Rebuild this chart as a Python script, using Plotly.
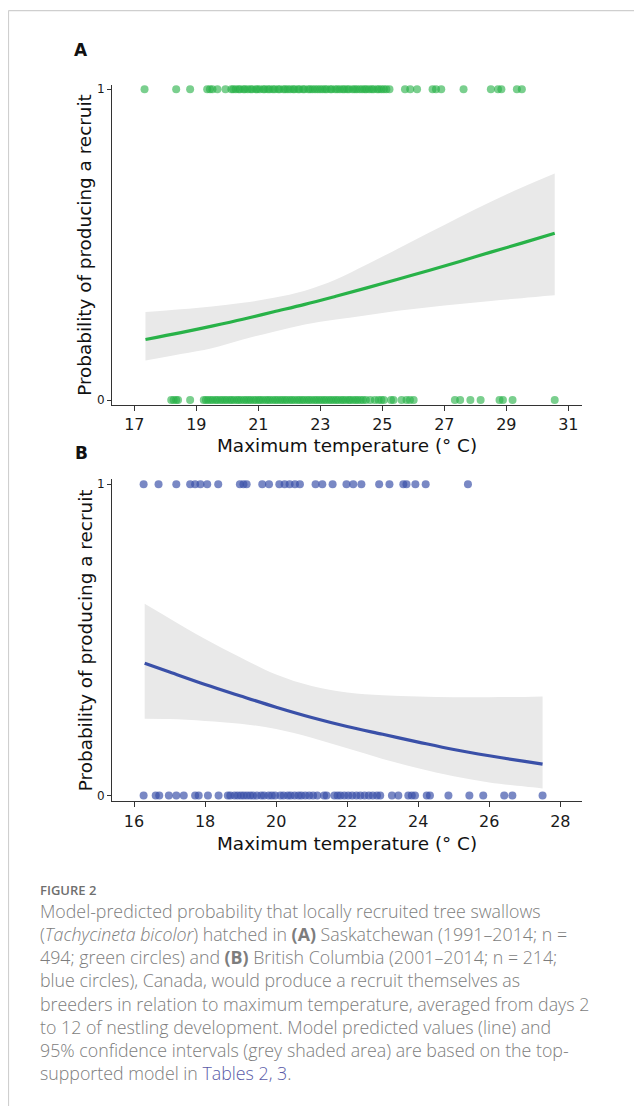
import plotly.graph_objects as go

# ---------------- data ----------------
# Panel A: Saskatchewan (green)
band_temp_A = [17.36, 18.5, 19.5, 20.5, 21.5, 22.5, 23.5, 24.5, 25.5, 26.5, 27.5, 28.5, 29.5, 30.56]
fit_A = [0.195, 0.217, 0.238, 0.260, 0.284, 0.308, 0.334, 0.361, 0.389, 0.417, 0.446, 0.476, 0.505, 0.537]
upper_A = [0.283, 0.292, 0.301, 0.313, 0.329, 0.352, 0.388, 0.436, 0.487, 0.538, 0.589, 0.638, 0.684, 0.729]
lower_A = [0.127, 0.148, 0.167, 0.195, 0.220, 0.243, 0.259, 0.273, 0.287, 0.299, 0.309, 0.319, 0.328, 0.337]

recruit_temp_A = [17.33, 18.35, 18.80, 19.35, 19.44, 19.52, 19.68, 19.94,
                  20.13, 20.19, 20.27, 20.36, 20.41, 20.52, 20.57, 20.66, 20.75, 20.81,
                  20.92, 20.97, 21.05, 21.16, 21.21, 21.31, 21.37, 21.47, 21.53, 21.64,
                  21.69, 21.81, 21.87, 21.95, 22.03, 22.12, 22.17, 22.28, 22.33, 22.44,
                  22.49, 22.61, 22.67, 22.75, 22.83, 22.91, 22.99, 23.07, 23.15, 23.21,
                  23.32, 23.37, 23.48, 23.55, 23.63, 23.72, 23.78, 23.87, 23.93, 24.04,
                  24.11, 24.18, 24.27, 24.35, 24.43, 24.49, 24.58, 24.66, 24.72, 24.83,
                  24.89, 24.97, 25.05, 25.13, 25.23,
                  25.73, 25.90, 26.12, 26.62, 26.73, 26.90, 27.62, 28.50, 28.73, 28.84,
                  29.34, 29.50]
no_recruit_temp_A = [18.19, 18.27, 18.35, 18.41, 18.80,
                     19.24, 19.31, 19.38, 19.46, 19.53, 19.62, 19.68, 19.77, 19.84, 19.92,
                     19.99, 20.08, 20.14, 20.22, 20.31, 20.37, 20.45, 20.54, 20.61, 20.69,
                     20.76, 20.85, 20.92, 21.01, 21.07, 21.15, 21.24, 21.31, 21.38, 21.47,
                     21.55, 21.62, 21.71, 21.78, 21.86, 21.93, 22.02, 22.09, 22.17, 22.26,
                     22.33, 22.41, 22.48, 22.57, 22.64, 22.72, 22.81, 22.88, 22.96, 23.04,
                     23.12, 23.19, 23.28, 23.35, 23.43, 23.51, 23.58, 23.67, 23.74, 23.82,
                     23.91, 23.97, 24.06, 24.14, 24.21, 24.30, 24.38, 24.47, 24.61, 24.76,
                     24.88, 24.97, 25.05, 25.28, 25.36, 25.62, 25.78, 25.89, 26.01,
                     27.34, 27.51, 27.84, 28.17, 28.78, 28.89, 29.20, 30.56]

# Panel B: British Columbia (blue)
band_temp_B = [16.3, 17.0, 18.0, 19.0, 20.0, 21.0, 22.0, 23.0, 24.0, 25.0, 26.0, 27.0, 27.5]
fit_B = [0.425, 0.397, 0.357, 0.320, 0.284, 0.251, 0.222, 0.197, 0.172, 0.148, 0.128, 0.110, 0.101]
upper_B = [0.616, 0.569, 0.503, 0.444, 0.389, 0.352, 0.331, 0.322, 0.318, 0.316, 0.316, 0.317, 0.318]
lower_B = [0.247, 0.246, 0.240, 0.231, 0.214, 0.186, 0.152, 0.118, 0.088, 0.062, 0.042, 0.029, 0.023]

recruit_temp_B = [16.27, 16.69, 17.19, 17.58, 17.72, 17.87, 18.06, 18.37, 18.98, 19.08,
                  19.17, 19.61, 19.80, 20.09, 20.24, 20.38, 20.53, 20.67, 21.11, 21.30,
                  21.59, 21.98, 22.17, 22.40, 22.90, 23.19, 23.58, 23.67, 23.92, 24.21,
                  25.40]
no_recruit_temp_B = [16.27, 16.61, 16.71, 16.98, 17.19, 17.40, 17.72, 17.82, 18.08, 18.38,
                     18.64, 18.71, 18.83, 18.92, 19.01, 19.09, 19.18, 19.27, 19.35, 19.46,
                     19.58, 19.66, 19.79, 19.88, 19.97, 20.12, 20.21, 20.33, 20.41, 20.52,
                     20.63, 20.71, 20.82, 20.93, 21.04, 21.16, 21.35, 21.42,
                     21.64, 21.73, 21.81, 21.92, 22.03, 22.14, 22.26, 22.37, 22.49, 22.61,
                     22.72, 22.84, 22.93, 23.26, 23.44, 23.72, 23.82, 23.91, 24.24, 24.33,
                     24.85, 25.44, 25.83, 26.42, 26.65, 27.50]

ticks_A = [17, 19, 21, 23, 25, 27, 29, 31]
ticks_B = [16, 18, 20, 22, 24, 26, 28]
ticks_y = [0, 1]

caption_head = "FIGURE 2"
caption_lines = [
    "Model-predicted probability that locally recruited tree swallows",
    "(<i>Tachycineta bicolor</i>) hatched in <b>(A)</b> Saskatchewan (1991\u20132014; n =",
    "494; green circles) and <b>(B)</b> British Columbia (2001\u20132014; n = 214;",
    "blue circles), Canada, would produce a recruit themselves as",
    "breeders in relation to maximum temperature, averaged from days 2",
    "to 12 of nestling development. Model predicted values (line) and",
    "95% confidence intervals (grey shaded area) are based on the top-",
    "supported model in <span style='color:#5b5ba8'>Tables 2, 3</span>.",
]

# ---------------- layout helpers ----------------
W, H = 626, 1100
OFF = 8


def px(x):
    return (x - OFF) / W


def py(y):
    return 1 - (y - OFF) / H


GREEN = "rgb(40,178,72)"
GREEN_PT = "rgba(40,178,72,0.62)"
BLUE = "rgb(58,80,168)"
BLUE_PT = "rgba(58,80,168,0.68)"
BAND = "rgb(233,233,233)"
FONT = "DejaVu Sans"

fig = go.Figure()


def add_panel(temps, fit, up, lo, rec, norec, line_col, pt_col, xa, ya):
    fig.add_trace(go.Scatter(x=temps, y=lo, mode="lines", line=dict(width=0, shape="spline", color=BAND),
                             hoverinfo="skip", showlegend=False, xaxis=xa, yaxis=ya))
    fig.add_trace(go.Scatter(x=temps, y=up, mode="lines", fill="tonexty", fillcolor=BAND,
                             line=dict(width=0, shape="spline", color=BAND),
                             hoverinfo="skip", showlegend=False, xaxis=xa, yaxis=ya))
    fig.add_trace(go.Scatter(x=temps, y=fit, mode="lines",
                             line=dict(color=line_col, width=3.2, shape="spline"),
                             showlegend=False, xaxis=xa, yaxis=ya))
    fig.add_trace(go.Scatter(x=rec, y=[1] * len(rec), mode="markers",
                             marker=dict(color=pt_col, size=8, line=dict(width=0)),
                             showlegend=False, xaxis=xa, yaxis=ya, cliponaxis=False))
    fig.add_trace(go.Scatter(x=norec, y=[0] * len(norec), mode="markers",
                             marker=dict(color=pt_col, size=8, line=dict(width=0)),
                             showlegend=False, xaxis=xa, yaxis=ya, cliponaxis=False))


add_panel(band_temp_A, fit_A, upper_A, lower_A, recruit_temp_A, no_recruit_temp_A, GREEN, GREEN_PT, "x", "y")
add_panel(band_temp_B, fit_B, upper_B, lower_B, recruit_temp_B, no_recruit_temp_B, BLUE, BLUE_PT, "x2", "y2")

axis_common = dict(showline=True, linecolor="#333333", linewidth=1, ticks="outside",
                   tickcolor="#333333", tickwidth=1, showgrid=False, zeroline=False,
                   fixedrange=True)

xdom = [px(112), px(582)]
fig.update_layout(
    xaxis=dict(domain=xdom, range=[16.28, 31.44], tickvals=ticks_A, ticklen=5, anchor="y",
               tickfont=dict(family=FONT, size=16, color="#1a1a1a"), **axis_common),
    yaxis=dict(domain=[py(404.5), py(83)], range=[-0.016, 1.0145], tickvals=ticks_y, ticklen=4,
               anchor="x", tickfont=dict(family=FONT, size=12, color="#1a1a1a"), **axis_common),
    xaxis2=dict(domain=xdom, range=[15.38, 28.61], tickvals=ticks_B, ticklen=5, anchor="y2",
                tickfont=dict(family=FONT, size=16, color="#1a1a1a"), **axis_common),
    yaxis2=dict(domain=[py(802.3), py(478.7)], range=[-0.0186, 1.017], tickvals=ticks_y, ticklen=4,
                anchor="x2", tickfont=dict(family=FONT, size=12, color="#1a1a1a"), **axis_common),
)

ann = []


def text(x, y, s, size, color="#111111", family=FONT, xanchor="center", yanchor="middle",
         textangle=0, weight=None, align="center"):
    f = dict(family=family, size=size, color=color)
    if weight is not None:
        f["weight"] = weight
    ann.append(dict(x=px(x), y=py(y), xref="paper", yref="paper", text=s, showarrow=False,
                    xanchor=xanchor, yanchor=yanchor, textangle=textangle, font=f, align=align))


# panel letters
text(81, 48.5, "<b>A</b>", 17)
text(81, 452.5, "<b>B</b>", 17)
# axis titles
xt = "Maximum temperature (\u00b0 C)"
yt = "Probability of producing a recruit"
text(347, 445, xt, 18.4)
text(347, 844.5, xt, 18.4)
text(85, 243.7, yt, 18.4, textangle=-90)
text(85, 640.5, yt, 18.4, textangle=-90)

# caption
CAP = "Open Sans"
text(38, 891, caption_head, 13, color="#6f6f6f", family=CAP, xanchor="left", weight=600)
text(38, 993.5, "<br>".join(caption_lines), 17.8, color="#7d7d7d", family=CAP,
     xanchor="left", weight=300, align="left")

fig.update_layout(annotations=ann)

# card border (left and top)
fig.add_shape(type="line", xref="paper", yref="paper", x0=0.0008, x1=0.0008, y0=0, y1=0.9995,
              line=dict(color="#cfcfcf", width=1.2))
fig.add_shape(type="line", xref="paper", yref="paper", x0=0.0008, x1=1, y0=0.9995, y1=0.9995,
              line=dict(color="#cfcfcf", width=1.2))

fig.update_layout(width=W, height=H, margin=dict(l=0, r=0, t=0, b=0),
                  paper_bgcolor="white", plot_bgcolor="white", showlegend=False)

fig.write_html("out.html", config={"displayModeBar": False})
